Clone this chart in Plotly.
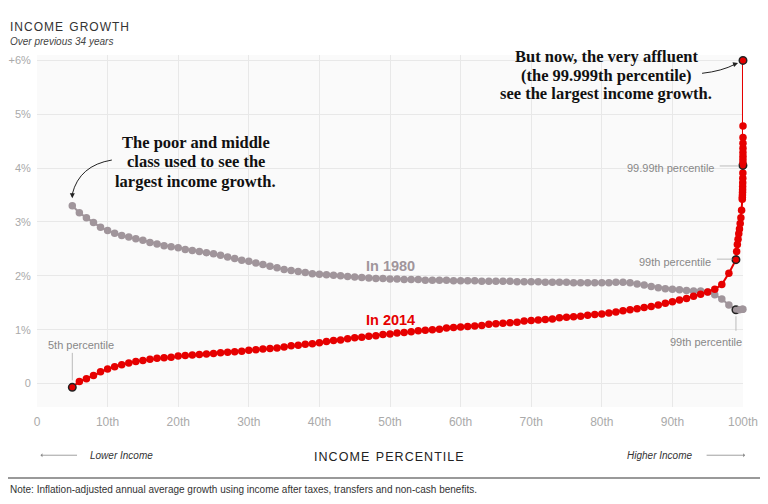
import plotly.graph_objects as go

# Income percentiles (5th .. 99th, then the top 1% broken down)
pct_main = list(range(5, 100))
pct_top_1980 = [99.5, 99.9, 99.99]
pct_top_2014 = [99.1, 99.2, 99.3, 99.4, 99.5, 99.6, 99.7, 99.8, 99.9,
                99.91, 99.92, 99.93, 99.94, 99.95, 99.96, 99.97, 99.98, 99.99,
                99.991, 99.992, 99.993, 99.994, 99.995, 99.996, 99.997, 99.998, 99.999]

# Annual income growth, %
growth_1980 = [3.30, 3.17, 3.08, 2.99, 2.90, 2.84, 2.79, 2.75, 2.72, 2.69,
               2.66, 2.62, 2.59, 2.56, 2.54, 2.52, 2.49, 2.47, 2.45, 2.43,
               2.41, 2.38, 2.35, 2.32, 2.29, 2.27, 2.24, 2.21, 2.18, 2.15,
               2.12, 2.10, 2.08, 2.06, 2.04, 2.03, 2.02, 2.01, 2.00, 1.99,
               1.98, 1.97, 1.96, 1.95, 1.95, 1.94, 1.94, 1.93, 1.93, 1.93,
               1.92, 1.92, 1.92, 1.92, 1.91, 1.91, 1.91, 1.91, 1.90, 1.90,
               1.90, 1.90, 1.90, 1.89, 1.89, 1.89, 1.89, 1.88, 1.88, 1.88,
               1.88, 1.87, 1.87, 1.87, 1.87, 1.87, 1.87, 1.88, 1.88, 1.87,
               1.85, 1.83, 1.80, 1.78, 1.76, 1.75, 1.74, 1.73, 1.72, 1.72,
               1.70, 1.65, 1.57, 1.46, 1.37]
growth_1980_top = [1.37, 1.38, 1.38]

growth_2014 = [-0.07, 0.04, 0.09, 0.15, 0.22, 0.27, 0.31, 0.35, 0.38, 0.41,
               0.43, 0.45, 0.47, 0.48, 0.49, 0.51, 0.52, 0.53, 0.54, 0.55,
               0.56, 0.57, 0.58, 0.59, 0.60, 0.62, 0.63, 0.64, 0.65, 0.66,
               0.68, 0.70, 0.71, 0.73, 0.74, 0.76, 0.78, 0.80, 0.81, 0.83,
               0.85, 0.86, 0.88, 0.89, 0.91, 0.92, 0.94, 0.95, 0.96, 0.98,
               0.99, 1.00, 1.01, 1.03, 1.04, 1.05, 1.06, 1.07, 1.08, 1.10,
               1.11, 1.12, 1.13, 1.14, 1.16, 1.17, 1.18, 1.19, 1.20, 1.22,
               1.23, 1.24, 1.25, 1.27, 1.28, 1.29, 1.31, 1.33, 1.35, 1.37,
               1.39, 1.41, 1.43, 1.46, 1.49, 1.52, 1.55, 1.58, 1.62, 1.66,
               1.70, 1.75, 1.84, 2.05, 2.30]
growth_2014_top = [2.45, 2.58, 2.68, 2.78, 2.87, 2.97, 3.08, 3.22, 3.42,
                   3.46, 3.50, 3.55, 3.60, 3.66, 3.73, 3.81, 3.91, 4.05,
                   4.10, 4.16, 4.22, 4.29, 4.37, 4.46, 4.57, 4.78, 6.00]

marked_1980 = [99]
marked_2014 = [5, 99, 99.99, 99.999]

x_ticks = [0, 10, 20, 30, 40, 50, 60, 70, 80, 90, 100]
x_labels = ["0", "10th", "20th", "30th", "40th", "50th", "60th", "70th", "80th", "90th", "100th"]
y_ticks = [0, 1, 2, 3, 4, 5, 6]
y_labels = ["0", "1%", "2%", "3%", "4%", "5%", "+6%"]

note_poor = ["The poor and middle", "class used to see the", "largest income growth."]
note_rich = ["But now, the very affluent", "(the 99.999th percentile)", "see the largest income growth."]

GRAY = "#a0959b"
RED = "#e60000"
SANS = "Liberation Sans, Arial, sans-serif"
SERIF = "Liberation Serif, Georgia, serif"
HS = "\u200a"  # hair space, used for letter-spaced headings


def spaced(s):
    return HS.join(s)


x80 = pct_main + pct_top_1980
y80 = growth_1980 + growth_1980_top
x14 = pct_main + pct_top_2014
y14 = growth_2014 + growth_2014_top

fig = go.Figure()

fig.add_trace(go.Scatter(
    x=x80, y=y80, mode="lines+markers",
    line=dict(color=GRAY, width=2),
    marker=dict(color=GRAY, size=7.5,
                line=dict(color="#222", width=[1.5 if p in marked_1980 else 0 for p in x80])),
    cliponaxis=False, hoverinfo="skip"))

fig.add_trace(go.Scatter(
    x=x14, y=y14, mode="lines+markers",
    line=dict(color=RED, width=2),
    marker=dict(color=RED, size=7.5,
                line=dict(color="#222", width=[1.5 if p in marked_2014 else 0 for p in x14])),
    cliponaxis=False, hoverinfo="skip"))

# Series labels
fig.add_annotation(x=50, y=2.18, text="<b>In 1980</b>", showarrow=False,
                   font=dict(family=SANS, size=14.5, color=GRAY))
fig.add_annotation(x=50, y=1.18, text="<b>In 2014</b>", showarrow=False,
                   font=dict(family=SANS, size=14.5, color=RED))

# Percentile call-outs
small = dict(family=SANS, size=11, color="#888")
fig.add_annotation(x=1.3, y=0.71, text="5th percentile", showarrow=False,
                   xanchor="left", font=small)
fig.add_shape(type="line", x0=5, x1=5, y0=0.57, y1=0.06, line=dict(color="#bbb", width=1))

fig.add_annotation(x=100, xshift=1, y=0.77, text="99th percentile", showarrow=False,
                   xanchor="right", font=small)
fig.add_shape(type="line", x0=99, x1=99, y0=1.25, y1=0.98, line=dict(color="#bbb", width=1))

fig.add_annotation(x=95.8, y=2.25, text="99th percentile", showarrow=False,
                   xanchor="right", font=small)
fig.add_shape(type="line", x0=96.3, x1=98.5, y0=2.31, y1=2.31, line=dict(color="#bbb", width=1))

fig.add_annotation(x=96.2, y=4.0, text="99.99th percentile", showarrow=False,
                   xanchor="right", font=small)
fig.add_shape(type="line", x0=96.7, x1=99.4, y0=4.04, y1=4.04, line=dict(color="#bbb", width=1))

# Big commentary, one annotation per line for tighter leading
big = dict(family=SERIF, size=16.5, color="#111")
for line, yy in zip(note_poor, [4.47, 4.12, 3.76]):
    fig.add_annotation(x=22.45, y=yy, text="<b>" + line + "</b>", showarrow=False,
                       font=big, yanchor="middle")
for line, yy in zip(note_rich, [6.07, 5.72, 5.39]):
    fig.add_annotation(x=80.6, y=yy, text="<b>" + line + "</b>", showarrow=False,
                       font=big, yanchor="middle")

# Curved pointers
fig.add_shape(type="path", path="M 10.6,4.15 Q 6.0,4.05 5.0,3.52",
              line=dict(color="#222", width=1))
fig.add_annotation(x=5.0, y=3.44, ax=0, ay=-6, text="", showarrow=True,
                   arrowhead=2, arrowsize=1, arrowwidth=1, arrowcolor="#222")
fig.add_shape(type="path", path="M 94.2,5.76 Q 97.0,5.80 98.9,5.93",
              line=dict(color="#222", width=1))
fig.add_annotation(x=99.3, y=5.95, ax=-6, ay=2, text="", showarrow=True,
                   arrowhead=2, arrowsize=1, arrowwidth=1, arrowcolor="#222")

# Titles and notes (paper coordinates)
fig.add_annotation(xref="paper", yref="paper", x=-0.041, y=1.08, xanchor="left", yanchor="middle",
                   text=spaced("INCOME") + HS * 3 + " " + spaced("GROWTH"),
                   showarrow=False, font=dict(family=SANS, size=12, color="#333"))
fig.add_annotation(xref="paper", yref="paper", x=-0.041, y=1.037, xanchor="left", yanchor="middle",
                   text="<i>Over previous 34 years</i>",
                   showarrow=False, font=dict(family=SANS, size=10, color="#444"))
fig.add_annotation(xref="paper", yref="paper", x=0.499, y=-0.142, yanchor="middle",
                   text=spaced("INCOME") + HS * 3 + " " + spaced("PERCENTILE"),
                   showarrow=False, font=dict(family=SANS, size=12.5, color="#222"))
fig.add_annotation(xref="paper", yref="paper", x=0.072, y=-0.137, xanchor="left", yanchor="middle",
                   text="<i>Lower Income</i>", showarrow=False,
                   font=dict(family=SANS, size=10, color="#333"))
fig.add_annotation(xref="paper", yref="paper", x=0.005, y=-0.137, ax=38, ay=0,
                   text="", showarrow=True, arrowhead=1, arrowsize=0.8,
                   arrowwidth=0.8, arrowcolor="#888")
fig.add_annotation(xref="paper", yref="paper", x=0.93, y=-0.137, xanchor="right", yanchor="middle",
                   text="<i>Higher Income</i>", showarrow=False,
                   font=dict(family=SANS, size=10, color="#333"))
fig.add_annotation(xref="paper", yref="paper", x=1.003, y=-0.137, ax=-40, ay=0,
                   text="", showarrow=True, arrowhead=1, arrowsize=0.8,
                   arrowwidth=0.8, arrowcolor="#888")
fig.add_shape(type="line", xref="paper", yref="paper", x0=-0.05, x1=1.05,
              y0=-0.202, y1=-0.202, line=dict(color="#999", width=2))
fig.add_annotation(xref="paper", yref="paper", x=-0.041, y=-0.233, xanchor="left", yanchor="middle",
                   text="Note: Inflation-adjusted annual average growth using income after taxes, transfers and non-cash benefits.",
                   showarrow=False, font=dict(family=SANS, size=10, color="#333"))

# the page body has an 8px margin, so the plot area is set 8px up and left
fig.update_layout(
    width=768, height=504,
    margin=dict(l=29, r=33, t=47, b=105),
    paper_bgcolor="white", plot_bgcolor="#fafafa",
    showlegend=False,
    xaxis=dict(range=[0, 100], tickvals=x_ticks, ticktext=x_labels,
               showgrid=True, gridcolor="#e8e8e8", zeroline=False, automargin=False,
               tickfont=dict(family=SANS, size=12, color="#aaa"),
               ticks="outside", ticklen=4, tickcolor="rgba(0,0,0,0)"),
    yaxis=dict(range=[-0.435, 6.1], tickvals=y_ticks, ticktext=y_labels,
               showgrid=True, gridcolor="#e8e8e8", zeroline=False, automargin=False,
               tickfont=dict(family=SANS, size=11, color="#aaa"),
               ticks="outside", ticklen=3, tickcolor="rgba(0,0,0,0)"),
)

fig.write_html("out.html")
